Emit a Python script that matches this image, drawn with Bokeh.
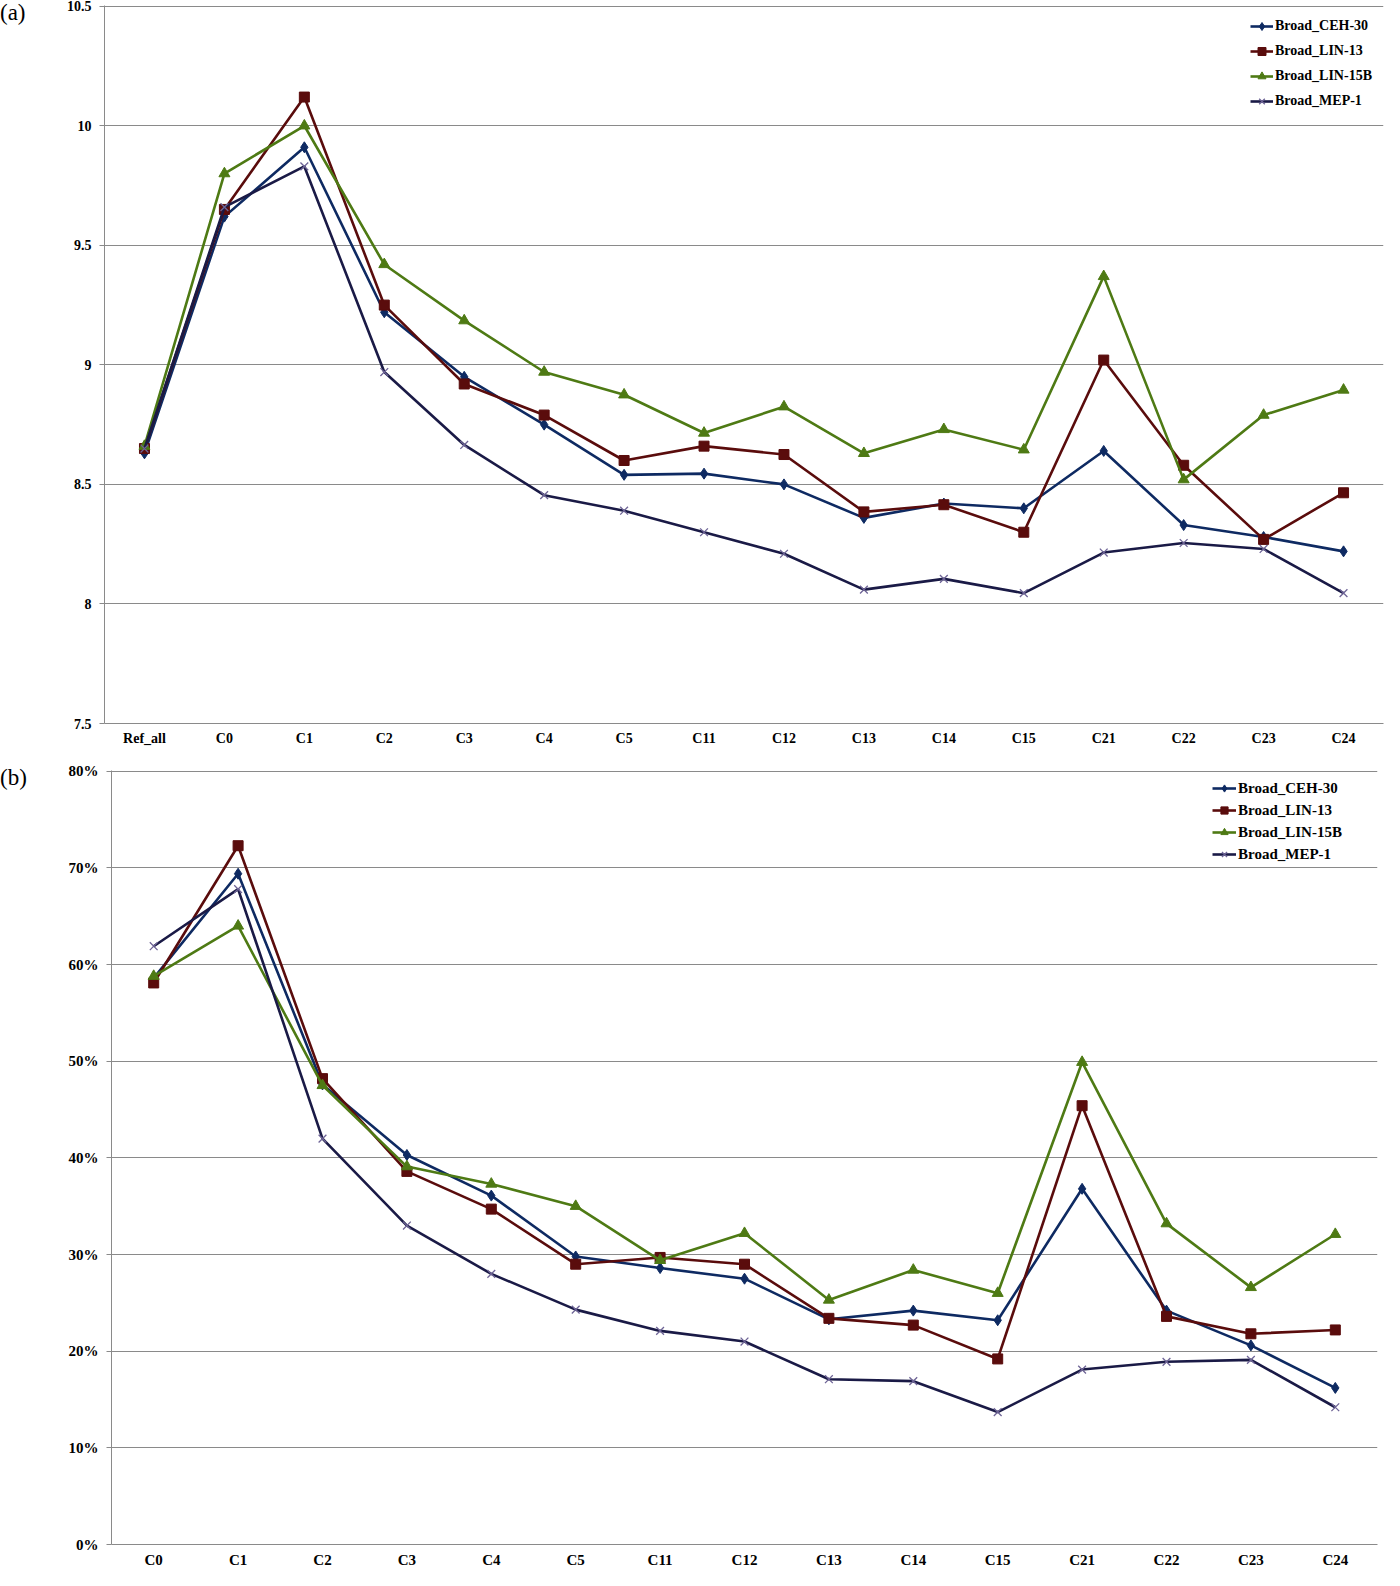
from bokeh.plotting import figure
from bokeh.models import FixedTicker, Legend, Range1d, Div
from bokeh.layouts import column, row
from bokeh.embed import file_html
from bokeh.resources import INLINE

# ---------------- data ----------------
cats_a = ["Ref_all", "C0", "C1", "C2", "C3", "C4", "C5", "C11", "C12",
          "C13", "C14", "C15", "C21", "C22", "C23", "C24"]
ceh30_a = [8.63, 9.62, 9.91, 9.22, 8.95, 8.75, 8.54, 8.545, 8.50,
           8.36, 8.42, 8.40, 8.64, 8.33, 8.28, 8.22]
lin13_a = [8.65, 9.65, 10.12, 9.25, 8.92, 8.79, 8.60, 8.66, 8.625,
           8.385, 8.415, 8.30, 9.02, 8.58, 8.27, 8.465]
lin15b_a = [8.66, 9.80, 10.00, 9.42, 9.185, 8.97, 8.875, 8.715, 8.825,
            8.63, 8.73, 8.645, 9.37, 8.52, 8.79, 8.895]
mep1_a = [8.65, 9.66, 9.83, 8.97, 8.665, 8.455, 8.39, 8.30, 8.21,
          8.06, 8.105, 8.045, 8.215, 8.255, 8.23, 8.045]
yticks_a = [7.5, 8, 8.5, 9, 9.5, 10, 10.5]
ylabels_a = ["7.5", "8", "8.5", "9", "9.5", "10", "10.5"]

cats_b = ["C0", "C1", "C2", "C3", "C4", "C5", "C11", "C12",
          "C13", "C14", "C15", "C21", "C22", "C23", "C24"]
ceh30_b = [58.6, 69.4, 47.6, 40.3, 36.1, 29.8, 28.6, 27.5,
           23.3, 24.2, 23.2, 36.8, 24.2, 20.6, 16.2]
lin13_b = [58.1, 72.3, 48.2, 38.6, 34.7, 29.0, 29.7, 29.0,
           23.4, 22.7, 19.2, 45.4, 23.6, 21.8, 22.2]
lin15b_b = [58.8, 64.0, 47.5, 39.1, 37.3, 35.0, 29.4, 32.2,
            25.3, 28.4, 26.0, 49.9, 33.2, 26.6, 32.1]
mep1_b = [61.9, 67.8, 42.0, 33.0, 28.0, 24.3, 22.1, 21.0,
          17.1, 16.9, 13.7, 18.1, 18.9, 19.1, 14.2]
yticks_b = [0, 10, 20, 30, 40, 50, 60, 70, 80]
ylabels_b = ["0%", "10%", "20%", "30%", "40%", "50%", "60%", "70%", "80%"]

series_names = ["Broad_CEH-30", "Broad_LIN-13", "Broad_LIN-15B", "Broad_MEP-1"]
colors = ["#0E2A62", "#5A0C0C", "#4E7A14", "#1A1A46"]
marker_colors = ["#0E2A62", "#5A0C0C", "#4E7A14", "#6E6496"]
markers = ["diamond", "square", "triangle", "x"]
msizes = [11, 10, 11, 11]

FONT = "Liberation Serif"
GRID = "#8A8A8A"
TAG_W = 40


def make_panel(cats, series, yticks, ylabels, yrange, width, height,
               borders, tick_fs, legend_pos, leg_rows, leg_glyph_w, leg_fs):
    p = figure(x_range=cats, width=width, height=height,
               output_backend="svg", toolbar_location=None,
               min_border_left=borders[0], min_border_right=borders[1],
               min_border_top=borders[2], min_border_bottom=borders[3])
    p.y_range = Range1d(*yrange)
    p.outline_line_color = None
    p.background_fill_color = "white"
    p.border_fill_color = "white"
    p.xgrid.grid_line_color = None
    p.ygrid.grid_line_color = GRID
    p.ygrid.grid_line_width = 1
    p.yaxis.ticker = FixedTicker(ticks=yticks)
    p.yaxis.major_label_overrides = {t: l for t, l in zip(yticks, ylabels)}
    p.yaxis.minor_tick_line_color = None
    p.yaxis.major_tick_in = 0
    p.yaxis.major_tick_out = 5
    p.yaxis.major_tick_line_color = GRID
    p.yaxis.axis_line_color = GRID
    p.yaxis.major_label_standoff = 8
    p.xaxis.axis_line_color = GRID
    p.xaxis.major_tick_line_color = None
    p.xaxis.major_tick_out = 0
    p.xaxis.major_tick_in = 0
    p.xaxis.minor_tick_line_color = None
    p.xaxis.major_label_standoff = 7
    for ax in (p.xaxis, p.yaxis):
        ax.major_label_text_font = FONT
        ax.major_label_text_font_style = "bold"
        ax.major_label_text_font_size = tick_fs
        ax.major_label_text_color = "black"

    items = []
    for name, vals, c, mc, m, ms in zip(series_names, series, colors,
                                         marker_colors, markers, msizes):
        r1 = p.line(cats, vals, line_color=c, line_width=2.6)
        if m == "x":
            r2 = p.scatter(cats, vals, marker=m, size=ms, line_color=mc,
                           line_width=1.3)
        else:
            r2 = p.scatter(cats, vals, marker=m, size=ms, fill_color=c,
                           line_color=c)
        items.append((name, [r1, r2]))

    leg = Legend(items=items, location=legend_pos, border_line_color=None,
                 background_fill_alpha=0, padding=4, margin=0,
                 glyph_width=leg_glyph_w, glyph_height=leg_rows[0],
                 label_height=leg_rows[0], spacing=leg_rows[1],
                 label_standoff=2, label_text_font=FONT,
                 label_text_font_style="bold", label_text_font_size=leg_fs,
                 label_text_color="black")
    p.add_layout(leg)
    return p


def make_tag(text, shift, height):
    return Div(text=('<span style="position:relative; top:%dpx; '
                     'font-family:\'Liberation Serif\', serif; font-size:23px; '
                     'line-height:26px; color:black;">%s</span>') % (shift, text),
               width=TAG_W, height=height, margin=0)


# panel a: frame page x ~112..1391, y 13..732
pa = make_panel(cats_a, [ceh30_a, lin13_a, lin15b_a, mep1_a], yticks_a,
                ylabels_a, (7.5, 10.503), 1384 - TAG_W, 748,
                (64, 1, 5, 24), "14px", (1146, 612), (20, 5), 23, "14px")
# panel b: frame page x ~119..1385, y 778..1554
pb = make_panel(cats_b, [ceh30_b, lin13_b, lin15b_b, mep1_b], yticks_b,
                ylabels_b, (0, 80.08), 1384 - TAG_W, 822,
                (71, 7, 22, 24), "15px", (1101, 681), (18, 4), 24, "15px")

tag_a = make_tag("(a)", 0, 40)
tag_b = make_tag("(b)", 17, 60)

layout = column(row(tag_a, pa, spacing=0), row(tag_b, pb, spacing=0),
                spacing=0)
open("out.html", "w").write(file_html(layout, INLINE))
